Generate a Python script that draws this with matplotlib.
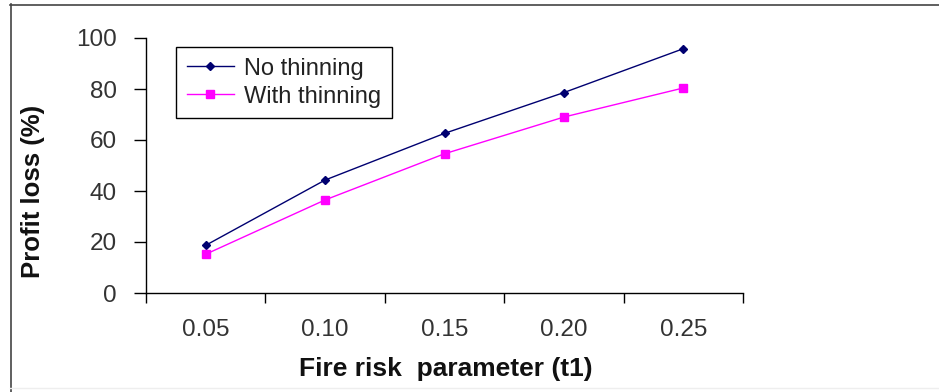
import matplotlib
matplotlib.use('Agg')
import matplotlib.pyplot as plt
from matplotlib.lines import Line2D
from matplotlib.ticker import FixedLocator, NullFormatter

# data
categories = ['0.05', '0.10', '0.15', '0.20', '0.25']
no_thinning = [18.7, 44.3, 62.6, 78.6, 95.8]
with_thinning = [15.2, 36.5, 54.6, 69.0, 80.4]
y_ticks = [0, 20, 40, 60, 80, 100]

plt.rcParams['font.family'] = ['Liberation Sans', 'DejaVu Sans']

W, H = 939, 392
fig = plt.figure(figsize=(W / 100, H / 100), dpi=100)

# axes box in pixels: x 146..743, y 38..293
ax = fig.add_axes([146 / W, 1 - 293 / H, (743 - 146) / W, (293 - 38) / H])

x = list(range(len(categories)))
ax.plot(x, no_thinning, color='#000070', lw=1.0, marker='D', ms=4.5,
        label='No thinning')
ax.plot(x, with_thinning, color='#ff00ff', lw=1.0, marker='s', ms=5.5,
        label='With thinning')

ax.set_xlim(-0.5, len(categories) - 0.5)
ax.set_ylim(0, 100)
ax.set_yticks(y_ticks)
ax.set_yticklabels([str(v) for v in y_ticks])

# category axis: labels at centres, tick marks between categories
ax.set_xticks(x)
ax.set_xticklabels(categories)
ax.xaxis.set_minor_locator(FixedLocator([i - 0.5 for i in range(len(categories) + 1)]))
ax.xaxis.set_minor_formatter(NullFormatter())
ax.tick_params(axis='x', which='major', length=0, pad=19, labelsize=17.5,
               labelcolor='#333333')
ax.tick_params(axis='x', which='minor', length=7, width=1.0, direction='out',
               color='black')
ax.tick_params(axis='y', length=9, width=1.0, direction='out', pad=12,
               labelsize=17.5, labelcolor='#333333', color='black')

for s in ['top', 'right']:
    ax.spines[s].set_visible(False)
for s in ['left', 'bottom']:
    ax.spines[s].set_linewidth(1.0)
    ax.spines[s].set_color('black')

fig.text(33 / W, 1 - 191 / H, 'Profit loss (%)', rotation=90, ha='center',
         va='center', fontsize=18.5, fontweight='bold', color='#111111')
fig.text(446 / W, 1 - 369 / H, 'Fire risk  parameter (t1)', ha='center',
         va='center', fontsize=19, fontweight='bold', color='#111111')

leg = ax.legend(loc='upper left', bbox_to_anchor=(30 / 597, (293 - 47) / 255),
                borderaxespad=0, fancybox=False, edgecolor='black',
                framealpha=1, fontsize=17, handlelength=2.0,
                handletextpad=0.45, borderpad=0.45, labelspacing=0.25,
                markerscale=1.0)
leg.get_frame().set_linewidth(1.0)
for t in leg.get_texts():
    t.set_color('#222222')

# outer frame of the picture
fig.add_artist(Line2D([10.5 / W, 10.5 / W], [0, 1 - 4 / H], color='#444444',
                      lw=1.2, transform=fig.transFigure))
fig.add_artist(Line2D([10 / W, 1], [1 - 4.5 / H, 1 - 4.5 / H], color='#444444',
                      lw=1.2, transform=fig.transFigure))
fig.add_artist(Line2D([10 / W, 1], [1 - 388 / H, 1 - 388 / H], color='#eeeeee',
                      lw=1.0, transform=fig.transFigure))

fig.savefig('out.png', dpi=100)
